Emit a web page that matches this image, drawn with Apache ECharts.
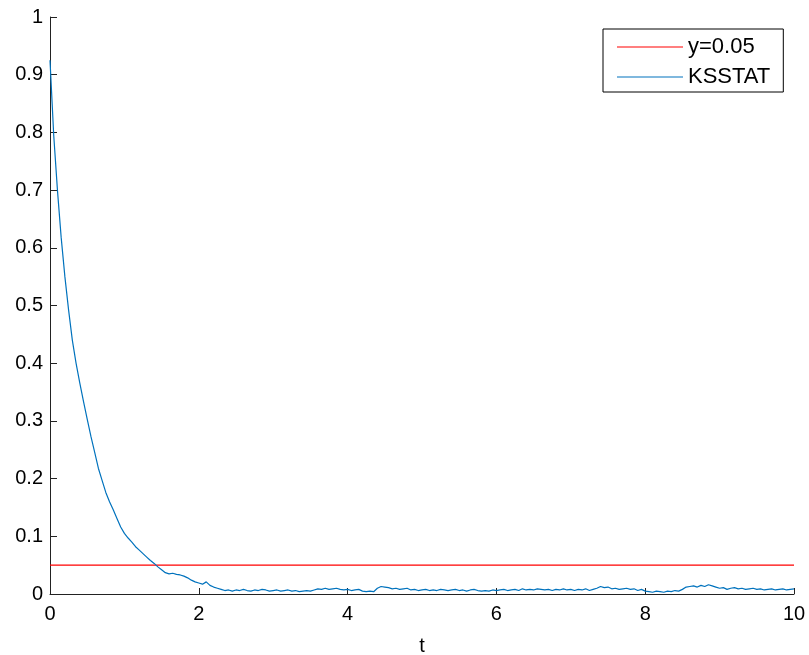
<!DOCTYPE html>
<html>
<head>
<meta charset="utf-8">
<script src="https://cdn.jsdelivr.net/npm/echarts@6/dist/echarts.min.js"></script>
<style>
html,body{margin:0;padding:0;background:#fff;}
#chart{width:809px;height:655px;}
</style>
</head>
<body>
<div id="chart"></div>
<script>
// Sample spacing of the KSSTAT trace along t
const tStart = 0;
const tStep = 0.05;
// KSSTAT values (t = 0, 0.05, ..., 10)
const ksstat = [
  0.925, 0.795, 0.700, 0.618, 0.550, 0.492, 0.440, 0.400, 0.366, 0.334,
  0.303, 0.273, 0.246, 0.218, 0.197, 0.176, 0.160, 0.146, 0.131, 0.116,
  0.105, 0.097, 0.090, 0.082, 0.076, 0.070, 0.064, 0.058, 0.053, 0.047,
  0.042, 0.037, 0.035, 0.036, 0.034, 0.033, 0.031, 0.028, 0.024, 0.021,
  0.019, 0.017, 0.021, 0.015, 0.012, 0.010, 0.008, 0.006, 0.007, 0.005,
  0.007, 0.006, 0.008, 0.006, 0.005, 0.007, 0.006, 0.008, 0.007, 0.005,
  0.006, 0.007, 0.005, 0.006, 0.007, 0.005, 0.006, 0.004, 0.005, 0.006,
  0.005, 0.007, 0.009, 0.008, 0.010, 0.008, 0.009, 0.010, 0.008, 0.007,
  0.008, 0.006, 0.007, 0.008, 0.005, 0.004, 0.005, 0.004, 0.010, 0.013,
  0.012, 0.011, 0.009, 0.010, 0.008, 0.009, 0.010, 0.007, 0.008, 0.006,
  0.007, 0.008, 0.006, 0.007, 0.006, 0.008, 0.007, 0.006, 0.007, 0.008,
  0.006, 0.007, 0.005, 0.007, 0.008, 0.006, 0.005, 0.006, 0.005, 0.007,
  0.006, 0.007, 0.008, 0.006, 0.007, 0.008, 0.006, 0.009, 0.007, 0.008,
  0.007, 0.009, 0.008, 0.007, 0.008, 0.006, 0.008, 0.007, 0.009, 0.007,
  0.008, 0.006, 0.008, 0.007, 0.009, 0.006, 0.008, 0.010, 0.013, 0.011,
  0.012, 0.009, 0.010, 0.008, 0.009, 0.010, 0.008, 0.009, 0.006, 0.008,
  0.005, 0.004, 0.003, 0.005, 0.004, 0.003, 0.005, 0.004, 0.006, 0.005,
  0.008, 0.012, 0.013, 0.014, 0.012, 0.015, 0.013, 0.016, 0.014, 0.012,
  0.010, 0.011, 0.008, 0.010, 0.011, 0.009, 0.010, 0.008, 0.009, 0.010,
  0.008, 0.009, 0.007, 0.008, 0.009, 0.007, 0.008, 0.009, 0.007, 0.008, 0.009
];
// Reference line y = 0.05
const refT = [0, 10];
const refY = [0.05, 0.05];
const seriesNames = ['y=0.05', 'KSSTAT'];
const xTicks = { min: 0, max: 10, interval: 2 };
const yTicks = { min: 0, max: 1, interval: 0.1 };

const ksData = ksstat.map((v, i) => [+(tStart + i * tStep).toFixed(2), v]);
const refData = refT.map((t, i) => [t, refY[i]]);

const FONT = '"Liberation Sans", Arial, sans-serif';
const chart = echarts.init(document.getElementById('chart'), null, { renderer: 'canvas' });
chart.setOption({
  animation: false,
  backgroundColor: '#ffffff',
  grid: { left: 50, right: 15, top: 17, bottom: 61, containLabel: false, outerBoundsMode: 'none' },
  legend: {
    data: seriesNames,
    orient: 'vertical',
    left: 603,
    top: 29,
    padding: [7, 13, 4, 14],
    itemGap: 8,
    itemWidth: 66,
    itemHeight: 1,
    icon: 'rect',
    borderColor: '#000',
    borderWidth: 1,
    backgroundColor: '#fff',
    textStyle: { fontFamily: FONT, fontSize: 22, color: '#000' }
  },
  xAxis: {
    type: 'value',
    min: xTicks.min, max: xTicks.max, interval: xTicks.interval,
    name: 't',
    nameLocation: 'middle',
    nameGap: 42,
    nameTextStyle: { fontFamily: FONT, fontSize: 20, color: '#000' },
    axisLine: { show: true, onZero: false, lineStyle: { color: '#222', width: 1 } },
    axisTick: { show: true, inside: true, length: 6, lineStyle: { color: '#222' } },
    axisLabel: { fontFamily: FONT, fontSize: 20, color: '#000', margin: 10 },
    splitLine: { show: false }
  },
  yAxis: {
    type: 'value',
    min: yTicks.min, max: yTicks.max, interval: yTicks.interval,
    axisLine: { show: true, onZero: false, lineStyle: { color: '#222', width: 1 } },
    axisTick: { show: true, inside: true, length: 7, lineStyle: { color: '#222' } },
    axisLabel: { fontFamily: FONT, fontSize: 20, color: '#000', margin: 7,
      formatter: v => String(+v.toFixed(1)) },
    splitLine: { show: false }
  },
  series: [
    {
      name: seriesNames[0], type: 'line', data: refData,
      showSymbol: false, symbol: 'none',
      lineStyle: { color: '#ff0000', width: 1.1 }, itemStyle: { color: '#ff0000' },
      z: 2
    },
    {
      name: seriesNames[1], type: 'line', data: ksData,
      showSymbol: false, symbol: 'none',
      lineStyle: { color: '#0072bd', width: 1.2 }, itemStyle: { color: '#0072bd' },
      z: 3
    }
  ]
});
</script>
</body>
</html>
